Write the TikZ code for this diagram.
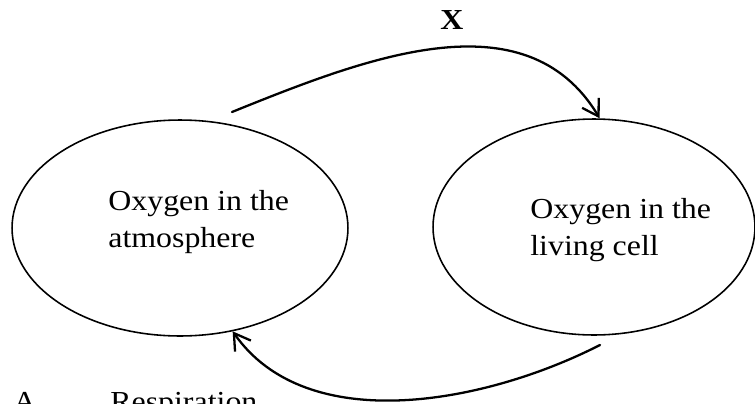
\documentclass[tikz,border=0pt]{standalone}
\usepackage{fontspec}
\setmainfont{Liberation Serif}[FakeStretch=1.1]
\usetikzlibrary{shapes.geometric,arrows.meta}

\begin{document}
\begin{tikzpicture}[
    x=0.02cm, y=0.02cm,
    line cap=round,
    every node/.style={font=\fontsize{16.5}{21}\selectfont},
    blob/.style={ellipse, draw, line width=0.9pt, minimum height=4.32cm},
    boxtext/.style={align=left, inner sep=0pt, anchor=base west},
    flow/.style={-{Straight Barb[length=9pt,width=11pt]}, line width=1.3pt},
]

\useasboundingbox (0,0) rectangle (755,-403);
\clip (0,0) rectangle (755,-403);

% ---------- the two oxygen pools ----------
\node[blob, minimum width=6.72cm] (atmo) at (180,-228) {};
\node[blob, minimum width=6.44cm] (cell) at (594,-227) {};

% base of a two-line node sits on its last line
\node[boxtext] (atmotext) at (108,-247) {Oxygen in the\\atmosphere};
\node[boxtext] (celltext) at (530,-255) {Oxygen in the\\living cell};

% ---------- the two transfers ----------
\coordinate (uptakestart) at (232,-112);
\coordinate (releasestart) at (600,-345);

\draw[flow] (uptakestart) to[out=22, in=121] (cell.87);
\draw[flow] (releasestart) to[out=207, in=-55, looseness=0.9] (atmo.-63);

\node[font=\fontsize{16.5}{21}\selectfont\bfseries] (xlabel) at (452,-20) {X};

% ---------- first answer line, cut by the page edge ----------
\node[boxtext] (optletter) at (13,-411) {A};
\node[boxtext] (opttext) at (110,-411) {Respiration};

\end{tikzpicture}
\end{document}
